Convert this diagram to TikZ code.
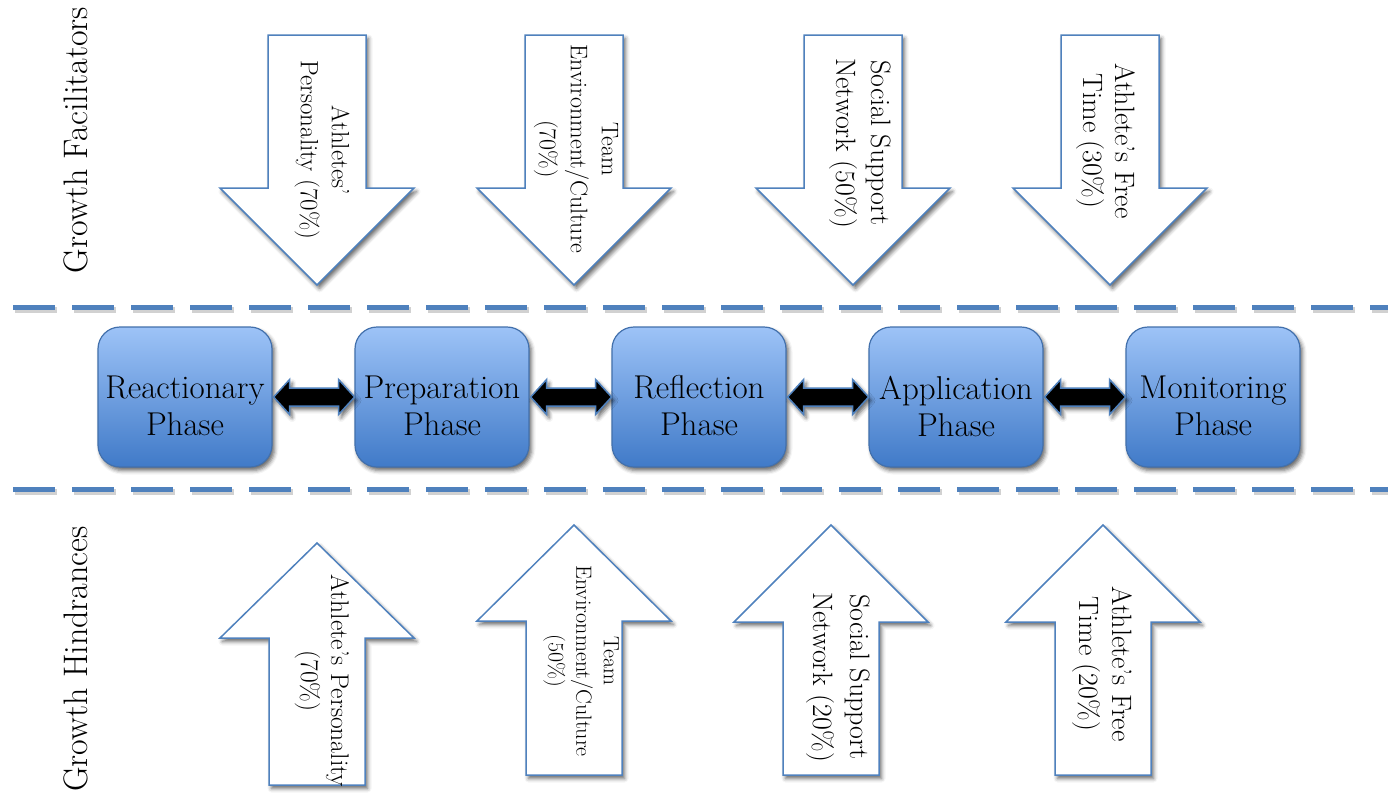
\documentclass[tikz,border=0pt]{standalone}
\usetikzlibrary{shadows.blur}

\definecolor{edgeblue}{RGB}{79,129,189}
\definecolor{boxtop}{RGB}{157,195,247}
\definecolor{boxbottom}{RGB}{64,122,200}
\definecolor{boxedge}{RGB}{66,112,172}

\tikzset{
  softshadow/.style={blur shadow={shadow xshift=2.5pt, shadow yshift=-3.5pt,
      shadow blur radius=4pt, shadow opacity=60}},
  blockarrow/.style={draw=edgeblue, line width=1.5pt, fill=white,
      line join=miter, softshadow},
  phasebox/.style={draw=boxedge, line width=1.2pt, rounded corners=22pt,
      top color=boxtop, bottom color=boxbottom,
      minimum width=174pt, minimum height=140pt, softshadow},
  phasetext/.style={align=center, inner sep=0pt,
      font=\fontsize{33}{37}\selectfont},
  dblarrow/.style={draw=edgeblue, line width=1.5pt, fill=black,
      line join=miter, softshadow},
  dashrule/.style={draw=edgeblue, line width=5pt, dash pattern=on 42pt off 17pt},
  dashshade/.style={draw=black, opacity=0.18, line width=6pt,
      dash pattern=on 42pt off 17pt},
  sidelabel/.style={rotate=90, inner sep=0pt, font=\fontsize{34}{38}\selectfont},
  armlabel/.style={rotate=-90, align=center, inner sep=0pt},
}

% downward block arrow: centre x
\newcommand\facarrow[1]{%
  \path[blockarrow] (#1-49,35) -- (#1+49,35) -- (#1+49,188) -- (#1+97,188)
    -- (#1,285) -- (#1-97,188) -- (#1-49,188) -- cycle;}
% upward block arrow: centre x, tip y, shoulder y, bottom y
\newcommand\hinarrow[4]{%
  \path[blockarrow] (#1,#2) -- (#1+97,#3) -- (#1+48,#3) -- (#1+48,#4)
    -- (#1-48,#4) -- (#1-48,#3) -- (#1-97,#3) -- cycle;}
% two-headed link between neighbouring phase boxes
\newcommand\linkarrow[2]{%
  \begin{scope}[shift={(#1.east)}]
    \path[dblarrow] (1,0) -- (17,-17.5) -- (17,-9) -- (66,-9) -- (66,-17.5)
      -- (82,0) -- (66,17.5) -- (66,9) -- (17,9) -- (17,17.5) -- cycle;
  \end{scope}}

\begin{document}
\begin{tikzpicture}[x=1pt, y=-1pt]
\useasboundingbox (0,0) rectangle (1388,795);

% side captions
\node[sidelabel] (gf) at (76,140) {Growth Facilitators};
\node[sidelabel] (gh) at (76,659) {Growth Hindrances};

% separating rules
\draw[dashshade] (15,310) -- (1388,310);
\draw[dashrule] (13,307) -- (1388,307);
\draw[dashshade] (15,492) -- (1388,492);
\draw[dashrule] (13,489) -- (1388,489);

% facilitators
\facarrow{317}
\facarrow{574}
\facarrow{853}
\facarrow{1110}
\node[armlabel, font=\fontsize{25}{31}\selectfont] (f1) at (322,150)
  {Athletes’\\Personality (70\%)};
\node[armlabel, font=\fontsize{24}{31}\selectfont] (f2) at (576,149)
  {Team\\Environment/Culture\\(70\%)};
\node[armlabel, font=\fontsize{28}{35}\selectfont] (f3) at (860,143)
  {Social Support\\Network (50\%)};
\node[armlabel, font=\fontsize{28}{32}\selectfont] (f4) at (1106,141)
  {Athlete’s Free\\Time (30\%)};

% hindrances
\hinarrow{317}{543}{638}{785}
\hinarrow{574}{525}{621}{775}
\hinarrow{831}{525}{622}{775}
\hinarrow{1103}{525}{622}{775}
\node[armlabel, font=\fontsize{25.5}{30}\selectfont] (h1) at (322,681)
  {Athlete’s Personality\\(70\%)};
\node[armlabel, font=\fontsize{22}{27.5}\selectfont] (h2) at (581,661)
  {Team\\Environment/Culture\\(50\%)};
\node[armlabel, font=\fontsize{28}{37}\selectfont] (h3) at (838,677)
  {Social Support\\Network (20\%)};
\node[armlabel, font=\fontsize{28}{33}\selectfont] (h4) at (1102,664)
  {Athlete’s Free\\Time (20\%)};

% phases
\node[phasebox] (p1) at (185,397) {};
\node[phasebox] (p2) at (442,397) {};
\node[phasebox] (p3) at (699,397) {};
\node[phasebox] (p4) at (956,397) {};
\node[phasebox] (p5) at (1213,397) {};
\node[phasetext] (t1) at ([yshift=-9pt]p1.center) {Reactionary\\Phase};
\node[phasetext] (t2) at ([yshift=-9pt]p2.center) {Preparation\\Phase};
\node[phasetext] (t3) at ([yshift=-9pt]p3.center) {Reflection\\Phase};
\node[phasetext] (t4) at ([yshift=-9pt]p4.center) {Application\\Phase};
\node[phasetext] (t5) at ([yshift=-9pt]p5.center) {Monitoring\\Phase};

\linkarrow{p1}{p2}
\linkarrow{p2}{p3}
\linkarrow{p3}{p4}
\linkarrow{p4}{p5}
\end{tikzpicture}
\end{document}
